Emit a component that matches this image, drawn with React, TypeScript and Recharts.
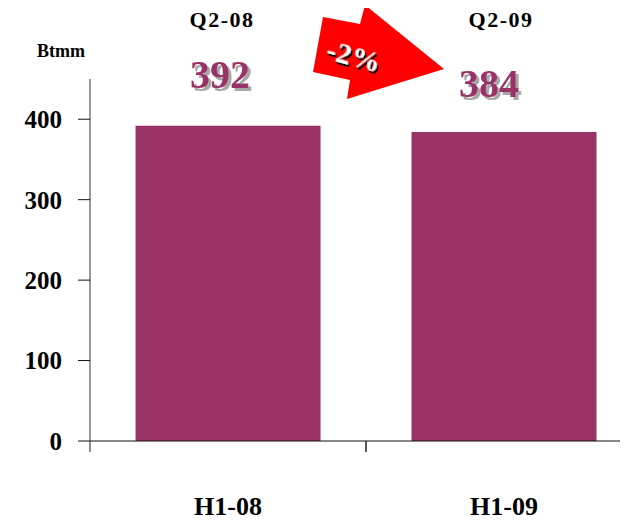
import React from "react";
import { ComposedChart, Bar, XAxis, YAxis, LabelList } from "recharts";

const categories = ["H1-08", "H1-09"];
const volumes = [392, 384];
const quarterLabels = ["Q2-08", "Q2-09"];
const yTicks = [0, 100, 200, 300, 400];
const unitLabel = "Btmm";
const changeLabel = "-2%";

const data = categories.map((c, i) => ({ name: c, value: volumes[i], quarter: quarterLabels[i] }));

const FONT = "'Liberation Serif', 'Times New Roman', serif";
const PLUM = "#993366";
const valueNudge = [
  [-8, -38],
  [-15, -35],
];
const quarterNudge = [-6, -3];

const CatTick = (props: any) => {
  const { x, y, payload } = props;
  const off = payload.offset || 0;
  return (
    <g>
      <line x1={x - off} y1={y} x2={x - off} y2={y + 11} stroke="#222" strokeWidth={1} />
      <line x1={x + off} y1={y} x2={x + off} y2={y + 11} stroke="#222" strokeWidth={1} />
      <text x={x} y={y + 74} textAnchor="middle" fontFamily={FONT} fontWeight="bold" fontSize={26} fill="#000">
        {payload.value}
      </text>
    </g>
  );
};

const ValueLabel = (props: any) => {
  const { x, y, width, value, index } = props;
  const [dx, dy] = valueNudge[index] || [0, -36];
  const cx = x + width / 2 + dx;
  const cy = y + dy;
  return (
    <text
      x={cx}
      y={cy}
      textAnchor="middle"
      fontFamily={FONT}
      fontWeight="bold"
      fontSize={40}
      fill={PLUM}
      filter="url(#greyShadow)"
    >
      {value}
    </text>
  );
};

const QuarterLabel = (props: any) => {
  const { x, width, value, index } = props;
  const cx = x + width / 2 + (quarterNudge[index] || 0);
  return (
    <text x={cx} y={19} textAnchor="middle" fontFamily={FONT} fontWeight="bold" fontSize={22} letterSpacing={1.5} fill="#000">
      {value}
    </text>
  );
};

const UnitLabel = (props: any) => {
  const vb = props.viewBox || { x: 0, y: 71, width: 82 };
  return (
    <text x={vb.x + 53} y={vb.y - 22} textAnchor="middle" fontFamily={FONT} fontWeight="bold" fontSize={18} fill="#000">
      {unitLabel}
    </text>
  );
};

export default function App() {
  return (
    <div style={{ position: "relative", width: 620, height: 513, overflow: "hidden" }}>
      <svg width={0} height={0} style={{ position: "absolute" }}>
        <defs>
          <filter id="greyShadow" x="-20%" y="-20%" width="140%" height="140%">
            <feDropShadow dx={3} dy={3} stdDeviation={0.6} floodColor="#a8a8a8" floodOpacity={1} />
          </filter>
          <filter id="blackShadow" x="-20%" y="-20%" width="140%" height="140%">
            <feDropShadow dx={2} dy={2} stdDeviation={0.4} floodColor="#000" floodOpacity={1} />
          </filter>
        </defs>
      </svg>
      <ComposedChart
        width={650}
        height={513}
        data={data}
        margin={{ top: 71, right: 16, left: 0, bottom: 0 }}
        barCategoryGap="16.5%"
      >
        <XAxis
          dataKey="name"
          height={80}
          axisLine={{ stroke: "#111", strokeWidth: 1 }}
          tickLine={false}
          tickSize={0}
          tickMargin={0}
          tick={<CatTick />}
          interval={0}
        />
        <YAxis
          width={82}
          domain={[0, 450]}
          ticks={yTicks}
          tickSize={12}
          tickMargin={16}
          axisLine={{ stroke: "#333", strokeWidth: 1 }}
          tickLine={{ stroke: "#111", strokeWidth: 1 }}
          tick={{ fontFamily: FONT, fontWeight: "bold", fontSize: 25, fill: "#000" }}
          label={<UnitLabel />}
        />
        <Bar dataKey="value" fill={PLUM} isAnimationActive={false}>
          <LabelList dataKey="value" content={<ValueLabel />} />
          <LabelList dataKey="quarter" content={<QuarterLabel />} />
        </Bar>
      </ComposedChart>
      <svg
        width={620}
        height={513}
        style={{ position: "absolute", left: 0, top: 0, pointerEvents: "none" }}
      >
        <polygon
          points="315,9 352,16 357,-3 436,61 339,91 342,72 305,64"
          fill="#ff0000"
        />
        <g transform="translate(346,47) rotate(15)">
          <text
            x={0}
            y={0}
            textAnchor="middle"
            dominantBaseline="central"
            fontFamily={FONT}
            fontWeight="bold"
            fontSize={30}
            fill="#fff"
            filter="url(#blackShadow)"
          >
            {changeLabel}
          </text>
        </g>
      </svg>
    </div>
  );
}
